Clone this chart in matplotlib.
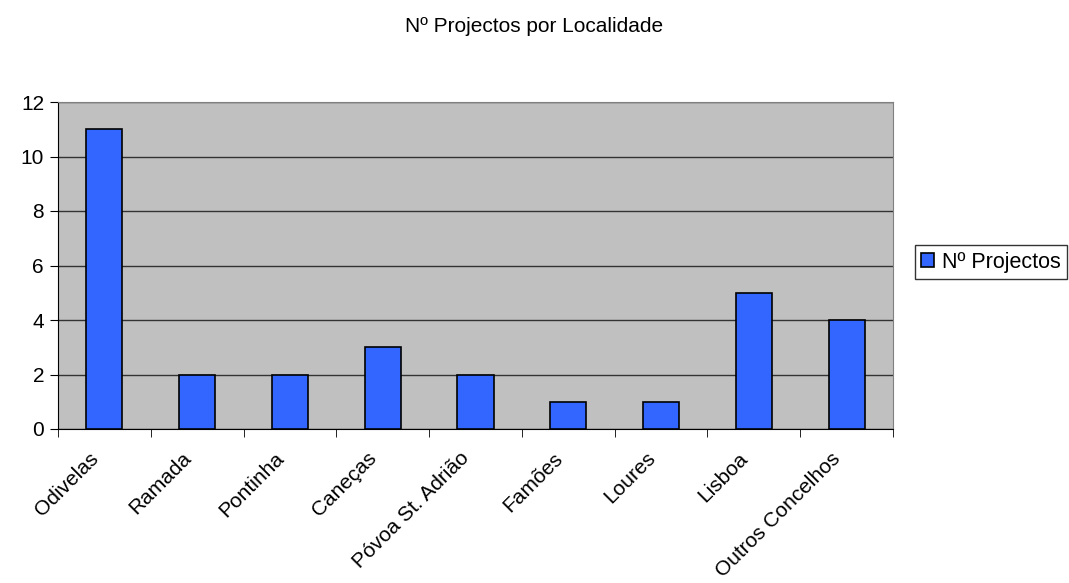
import matplotlib
matplotlib.use("Agg")
import matplotlib.pyplot as plt
import matplotlib.transforms as mtransforms
import numpy as np

categories = ["Odivelas", "Ramada", "Pontinha", "Caneças", "Póvoa St. Adrião",
              "Famões", "Loures", "Lisboa", "Outros Concelhos"]
values = [11, 2, 2, 3, 2, 1, 1, 5, 4]
yticks = [0, 2, 4, 6, 8, 10, 12]
series_name = "Nº Projectos"
title = "Nº Projectos por Localidade"

plt.rcParams['font.family'] = ['Liberation Sans', 'DejaVu Sans']

fig = plt.figure(figsize=(10.69, 5.83), dpi=100)
ax = fig.add_axes([58/1069, 1-429/583, (893-58)/1069, (429-102)/583])
ax.set_facecolor('#C0C0C0')

x = np.arange(len(categories))
ax.bar(x, values, width=0.39, color='#3366FF', edgecolor='black', linewidth=1.2,
       label=series_name, zorder=3)

ax.set_xlim(-0.5, len(categories) - 0.5)
ax.set_ylim(0, 12)
ax.set_yticks(yticks)
ax.set_yticklabels([str(v) for v in yticks], fontsize=15)
ax.yaxis.grid(True, color='#333333', linewidth=1, zorder=1)
ax.set_axisbelow(True)

ax.set_xticks(x)
ax.set_xticklabels(categories, rotation=45, ha='right', va='center',
                   rotation_mode='anchor', fontsize=15)
ax.set_xticks(np.arange(-0.5, len(categories)), minor=True)
ax.tick_params(axis='x', which='major', length=0, pad=19)
ax.tick_params(axis='x', which='minor', length=6, color='black', direction='out')
ax.tick_params(axis='y', length=6, color='black', direction='out', pad=4)
offset = mtransforms.ScaledTranslation(-9/100, 0, fig.dpi_scale_trans)
for lbl in ax.get_xticklabels():
    lbl.set_transform(lbl.get_transform() + offset)

for s in ['top', 'right']:
    ax.spines[s].set_color('#808080')
for s in ['left', 'bottom']:
    ax.spines[s].set_color('black')

fig.text(0.5, 1 - 27/583, title, ha='center', va='center', fontsize=15)

leg = fig.legend(loc='center left', bbox_to_anchor=(915/1069, 1 - 262/583),
                 fontsize=15.5, frameon=True, fancybox=False, edgecolor='black',
                 handlelength=0.6, handleheight=0.6, handletextpad=0.35,
                 borderpad=0.3, borderaxespad=0)
leg.get_frame().set_linewidth(1)

fig.savefig("out.png", dpi=100, facecolor='white')
